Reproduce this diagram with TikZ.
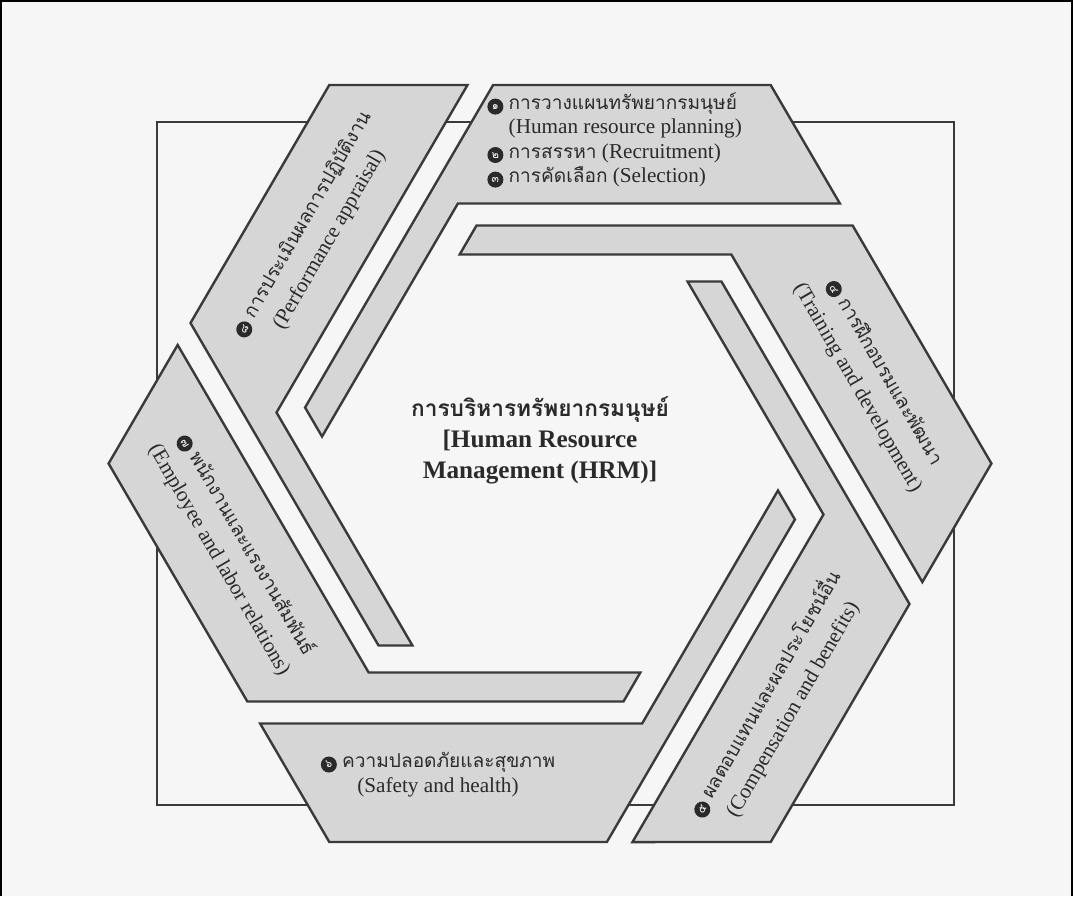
\documentclass[tikz,border=0pt]{standalone}
\usepackage{fontspec}
\setmainfont{Liberation Serif}
\newfontfamily\thai[Script=Thai,Scale=0.9]{Loma}
\definecolor{bandfill}{HTML}{D6D6D6}
\definecolor{edgecol}{HTML}{3A3A3A}
\definecolor{inkcol}{HTML}{2A2A2A}
\definecolor{pagebg}{HTML}{F6F6F6}
\newcommand\bul[1]{\tikz[baseline=(bb.base)]\node[circle,fill=inkcol,text=white,inner sep=0pt,minimum size=8pt,font={\thai\fontsize{6}{6}\selectfont}](bb){#1};}
\tikzset{
  piece/.style={fill=bandfill,draw=edgecol,line width=1.2pt,line join=miter},
  lbl/.style={text=inkcol,font=\fontsize{10.6}{15.5}\selectfont,align=center,inner sep=0pt},
  plan/.style={text=inkcol,font=\fontsize{10.6}{12}\selectfont,anchor=base west,inner sep=0pt},
  frame/.style={draw=edgecol,line width=0.8pt}
}
\begin{document}
\begin{tikzpicture}[x=0.5pt,y=-0.5pt]
\useasboundingbox (0,0) rectangle (1073,896);
\fill[pagebg] (0,0) rectangle (1073,896);
\draw[black,line width=1pt] (1,896) -- (1,1) -- (1072,1) -- (1072,896);
\draw[frame] (157,122) rectangle (954,805);
\begin{scope}[shift={(550,463.5)},xscale=1.01]
\foreach \k in {0,...,5}{
  \filldraw[piece,rotate=60*\k] (218.5,-378.5) -- (-56.3,-378.5) -- (-242.5,-56) -- (-225.7,-27) -- (-91.2,-260) -- (287,-260) -- cycle;
}
\end{scope}
% top block
\node[plan] (p1) at (487,109) {\bul{๑}~{\thai การวางแผนทรัพยากรมนุษย์}};
\node[plan] (p2) at (487,133) {\phantom{\bul{๑}~}(Human resource planning)};
\node[plan] (p3) at (487,158) {\bul{๒}~{\thai การสรรหา} (Recruitment)};
\node[plan] (p4) at (487,182) {\bul{๓}~{\thai การคัดเลือก} (Selection)};
% rotated labels
\node[lbl,rotate=60] (perf) at (316,232) {\bul{๘}~{\thai การประเมินผลการปฏิบัติงาน}\\(Performance appraisal)};
\node[lbl,rotate=-60] (empl) at (233,552) {\bul{๗}~{\thai พนักงานและแรงงานสัมพันธ์}\\(Employee and labor relations)};
\node[lbl,rotate=-60] (train) at (871,380) {\bul{๔}~{\thai การฝึกอบรมและพัฒนา}\\(Training and development)};
\node[lbl,rotate=60] (comp) at (778,701) {\bul{๕}~{\thai ผลตอบแทนและผลประโยชน์อื่น}\\(Compensation and benefits)};
\node[lbl,font=\fontsize{10.6}{12.5}\selectfont] (safe) at (438,775) {\bul{๖}~{\thai ความปลอดภัยและสุขภาพ}\\(Safety and health)};
% centre
\node[text=inkcol,align=center,inner sep=0pt,font=\fontsize{12.6}{15.5}\selectfont\bfseries] (hrm) at (540,440) {{\thai การบริหารทรัพยากรมนุษย์}\\{[Human Resource}\\Management (HRM)]};
\end{tikzpicture}
\end{document}
